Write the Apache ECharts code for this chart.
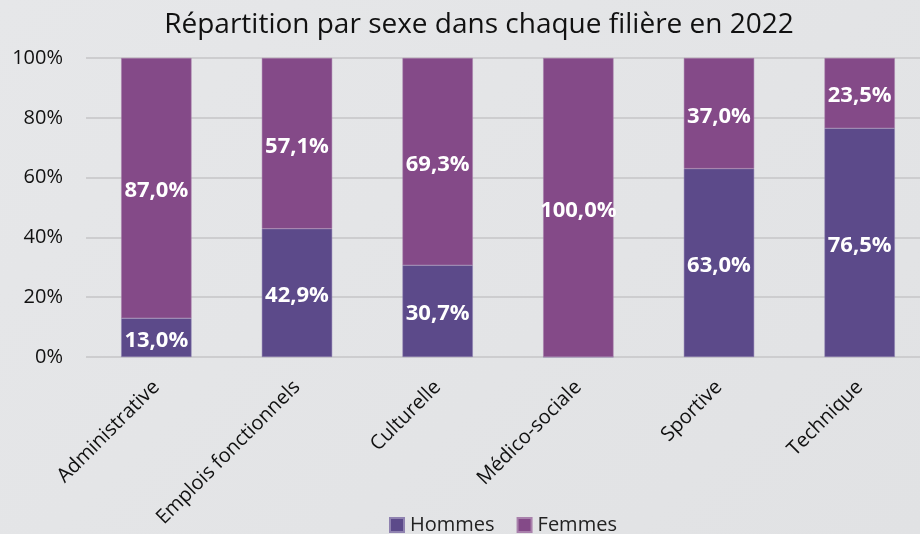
<!DOCTYPE html>
<html>
<head>
<meta charset="utf-8">
<script src="https://cdn.jsdelivr.net/npm/echarts@6/dist/echarts.min.js"></script>
<style>
  html, body { margin: 0; padding: 0; }
  #chart { width: 920px; height: 534px; background: linear-gradient(135deg, #e6e7e9 0%, #e1e2e4 100%); }
</style>
</head>
<body>
<div id="chart"></div>
<script>
// catégories et valeurs (%)
const categories = ['Administrative', 'Emplois fonctionnels', 'Culturelle', 'Médico-sociale', 'Sportive', 'Technique']
const hommes = [13.0, 42.9, 30.7, 0, 63.0, 76.5]
const femmes = [87.0, 57.1, 69.3, 100.0, 37.0, 23.5]
const yTicks = [0, 20, 40, 60, 80, 100]

const fmt = v => v.toFixed(1).replace('.', ',') + '%'

const chart = echarts.init(document.getElementById('chart'))

const labelStyle = {
  show: true,
  position: 'inside',
  color: '#fff',
  fontFamily: 'Open Sans',
  fontWeight: 'bold',
  fontSize: 22,
  offset: [0, 3],
  formatter: p => (p.value > 0 ? fmt(p.value) : '')
}

const option = {
  backgroundColor: 'transparent',
  animation: false,
  title: {
    text: 'Répartition par sexe dans chaque filière en 2022',
    left: 474,
    textAlign: 'center',
    top: 6,
    textStyle: { fontFamily: 'Open Sans', fontWeight: 'normal', fontSize: 28, color: '#111' }
  },
  legend: {
    top: 510,
    left: 384,
    itemWidth: 14,
    itemHeight: 14,
    itemGap: 22,
    icon: 'rect',
    textStyle: { fontFamily: 'Open Sans', fontSize: 20, color: '#222', padding: [0, 0, 0, 1] },
    data: ['Hommes', 'Femmes']
  },
  grid: { left: 86, width: 844, top: 58, height: 299, containLabel: false, outerBoundsMode: 'none' },
  xAxis: {
    type: 'category',
    data: categories,
    axisLine: { show: false },
    axisTick: { show: false },
    axisLabel: {
      interval: 0,
      rotate: 45,
      color: '#111',
      fontFamily: 'Open Sans',
      fontSize: 20,
      margin: 27
    }
  },
  yAxis: {
    type: 'value',
    min: yTicks[0],
    max: yTicks[yTicks.length - 1],
    interval: 20,
    axisLine: { show: false },
    axisTick: { show: false },
    splitLine: { lineStyle: { color: '#cdcdcf', width: 2 } },
    axisLabel: {
      color: '#111',
      fontFamily: 'Open Sans',
      fontSize: 20,
      margin: 23,
      formatter: v => v + '%'
    }
  },
  series: [
    {
      name: 'Hommes',
      type: 'bar',
      stack: 'total',
      barWidth: '50%',
      data: hommes,
      itemStyle: { color: '#5c4a8a', borderColor: '#8f82b0', borderWidth: 0.5 },
      label: labelStyle
    },
    {
      name: 'Femmes',
      type: 'bar',
      stack: 'total',
      barWidth: '50%',
      data: femmes,
      itemStyle: { color: '#844a88', borderColor: '#a981ac', borderWidth: 0.5 },
      label: labelStyle
    }
  ]
}

chart.setOption(option)
</script>
</body>
</html>
